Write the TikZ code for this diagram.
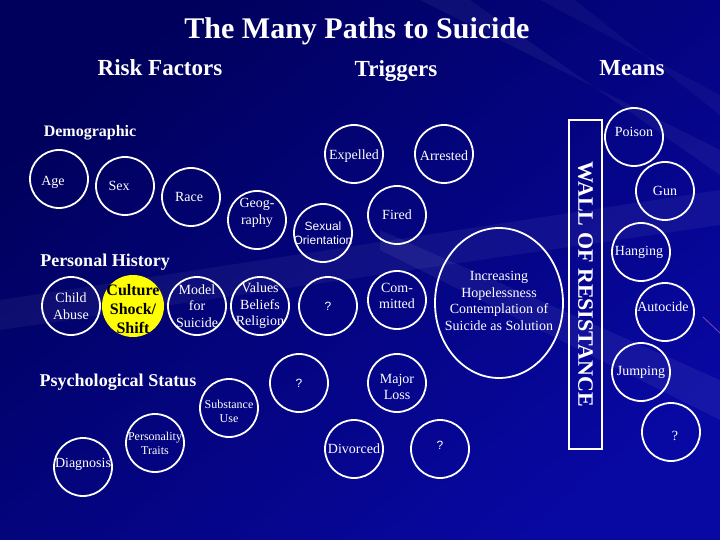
\documentclass[tikz,border=0pt]{standalone}
\usepackage{fontspec}
\setmainfont{Liberation Serif}
\newfontfamily\arial{Liberation Sans}
\usetikzlibrary{shapes.geometric}
\definecolor{bgTL}{RGB}{0,0,92}
\definecolor{bgMid}{RGB}{4,4,150}
\definecolor{bgBR}{RGB}{8,8,162}
\definecolor{cyel}{RGB}{255,255,0}
\begin{document}
\begin{tikzpicture}[x=1pt,y=-1pt,
  circ/.style={circle,draw=white,line width=1.8pt,minimum size=58pt,inner sep=0pt},
  lbl/.style={text=white,font=\fontsize{14}{16.5}\selectfont,align=center,inner sep=0pt},
  slbl/.style={text=white,font=\fontsize{12}{14}\selectfont,align=center,inner sep=0pt},
  albl/.style={text=white,font=\arial\fontsize{12}{14}\selectfont,align=center,inner sep=0pt},
  head/.style={text=white,font=\bfseries\fontsize{23}{26}\selectfont,inner sep=0pt},
  sect/.style={text=white,font=\bfseries\fontsize{18}{20}\selectfont,inner sep=0pt}]
% background
\useasboundingbox (0,0) rectangle (720,540);
\shade[shading=axis, top color=bgTL, middle color=bgMid, bottom color=bgBR, shading angle=40] (0,0) rectangle (720,540);
\fill[white,opacity=0.05] (0,300) -- (720,190) -- (720,225) -- (0,330) -- cycle;
\fill[white,opacity=0.06] (380,230) -- (720,380) -- (720,420) -- (380,250) -- cycle;
\fill[white,opacity=0.05] (420,0) -- (720,150) -- (720,175) -- (470,0) -- cycle;
\fill[white,opacity=0.04] (540,0) -- (720,95) -- (720,115) -- (575,0) -- cycle;
\draw[violet!60!white,opacity=0.7,line width=0.8pt] (703,317) -- (720,333);
% titles
\node[text=white,font=\bfseries\fontsize{30}{32}\selectfont,inner sep=0pt] (title) at (357,31) {The Many Paths to Suicide};
\node[head] (risk) at (160,68) {Risk Factors};
\node[head] (trig) at (396,71) {Triggers};
\node[head] (means) at (632,68) {Means};
\node[text=white,font=\bfseries\fontsize{16}{18}\selectfont,inner sep=0pt] (demo) at (90,133) {Demographic};
\node[sect] (pers) at (105,262) {Personal History};
\node[sect] (psych) at (118,382) {Psychological Status};
% demographic
\node[circ,label={[lbl,xshift=-6pt,yshift=-3pt]center:Age}] (age) at (59,179) {};
\node[circ,label={[lbl,xshift=-6pt]center:Sex}] (sex) at (125,186) {};
\node[circ,label={[lbl,xshift=-2pt]center:Race}] (race) at (191,197) {};
\node[circ,label={[lbl,yshift=7pt]center:Geog-\\raphy}] (geo) at (257,220) {};
\node[circ,label={[albl]center:Sexual\\Orientation}] (sexor) at (323,233) {};
% personal history
\node[circ,label={[lbl]center:Child\\Abuse}] (child) at (71,306) {};
\node[circ,fill=cyel,minimum size=62pt,draw=none,label={[text=black,font=\bfseries\fontsize{16}{19}\selectfont,align=center,inner sep=0pt,yshift=-3pt]center:Culture\\Shock/\\Shift}] (culture) at (133,306) {};
\node[circ,label={[lbl]center:Model\\for\\Suicide}] (model) at (197,306) {};
\node[circ,label={[lbl]center:Values\\Beliefs\\Religion}] (values) at (260,306) {};
\node[circ,label={[albl]center:?}] (q1) at (328,306) {};
% psychological
\node[circ,label={[slbl,yshift=-3pt]center:Substance\\Use}] (subst) at (229,408) {};
\node[circ,label={[slbl]center:Personality\\Traits}] (pers2) at (155,443) {};
\node[circ,label={[lbl,yshift=3pt]center:Diagnosis}] (diag) at (83,467) {};
\node[circ,label={[albl]center:?}] (q2) at (299,383) {};
% triggers
\node[circ,label={[lbl,yshift=-2pt]center:Expelled}] (expel) at (354,154) {};
\node[circ,label={[lbl,yshift=-2pt]center:Arrested}] (arrest) at (444,154) {};
\node[circ,label={[lbl]center:Fired}] (fired) at (397,215) {};
\node[circ,label={[lbl,yshift=4pt]center:Com-\\mitted}] (commit) at (397,300) {};
\node[circ,label={[lbl,yshift=-4pt]center:Major\\Loss}] (major) at (397,383) {};
\node[circ,label={[lbl]center:Divorced}] (divorce) at (354,449) {};
\node[circ,label={[albl,yshift=4pt]center:?}] (q3) at (440,449) {};
\node[ellipse,draw=white,line width=1.8pt,minimum width=128pt,minimum height=150pt,inner sep=0pt,
  label={[lbl,yshift=2pt]center:Increasing\\Hopelessness\\Contemplation of\\Suicide as Solution}] (hope) at (499,303) {};
% wall
\node[draw=white,line width=1.8pt,minimum width=33pt,minimum height=329pt,inner sep=0pt] (wall) at (585.5,284.5) {};
\node[text=white,font=\bfseries\fontsize{22}{24}\selectfont,rotate=-90,inner sep=0pt] (walltext) at (wall.center) {WALL OF RESISTANCE};
% means
\node[circ,label={[lbl,yshift=5pt]center:Poison}] (poison) at (634,137) {};
\node[circ,label={[lbl]center:Gun}] (gun) at (665,191) {};
\node[circ,label={[lbl,xshift=-2pt]center:Hanging}] (hang) at (641,252) {};
\node[circ,label={[lbl,yshift=5pt,xshift=-2pt]center:Autocide}] (auto) at (665,312) {};
\node[circ,label={[lbl]center:Jumping}] (jump) at (641,372) {};
\node[circ,label={[lbl,xshift=4pt,yshift=-4pt]center:?}] (q4) at (671,432) {};
\end{tikzpicture}
\end{document}
